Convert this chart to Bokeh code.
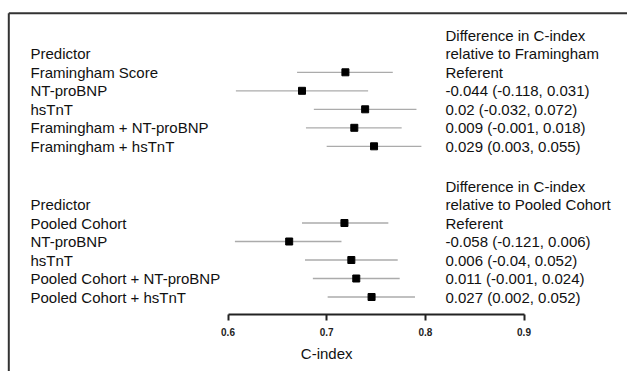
from bokeh.plotting import figure
from bokeh.models import Range1d, LinearAxis, FixedTicker, ColumnDataSource
from bokeh.core.properties import value
from bokeh.embed import file_html
from bokeh.resources import INLINE

# ---------------- data ----------------
top_labels = ["Framingham Score", "NT-proBNP", "hsTnT",
              "Framingham + NT-proBNP", "Framingham + hsTnT"]
top_est = [0.719, 0.675, 0.739, 0.728, 0.748]
top_lo = [0.670, 0.608, 0.687, 0.679, 0.700]
top_hi = [0.767, 0.742, 0.791, 0.776, 0.796]
top_diff = ["Referent", "-0.044 (-0.118, 0.031)", "0.02 (-0.032, 0.072)",
            "0.009 (-0.001, 0.018)", "0.029 (0.003, 0.055)"]
top_header = ["Difference in C-index", "relative to Framingham"]

bot_labels = ["Pooled Cohort", "NT-proBNP", "hsTnT",
              "Pooled Cohort + NT-proBNP", "Pooled Cohort + hsTnT"]
bot_est = [0.718, 0.662, 0.725, 0.730, 0.7455]
bot_lo = [0.675, 0.607, 0.678, 0.686, 0.701]
bot_hi = [0.7625, 0.715, 0.772, 0.774, 0.7895]
bot_diff = ["Referent", "-0.058 (-0.121, 0.006)", "0.006 (-0.04, 0.052)",
            "0.011 (-0.001, 0.024)", "0.027 (0.002, 0.052)"]
bot_header = ["Difference in C-index", "relative to Pooled Cohort"]

x_ticks = [0.6, 0.7, 0.8, 0.9]
x_title = "C-index"
col_title = "Predictor"

# ---------------- layout ----------------
W, H = 627, 371
PX_PER_UNIT = 986.7
X0 = 0.6 - 227.5 / PX_PER_UNIT          # data x at left edge of frame
X1 = X0 + W / PX_PER_UNIT


def px(xpix):
    """frame pixel -> data x"""
    return X0 + xpix / PX_PER_UNIT


ROW = 18.5
GROUP_TOP = [53.3, 204.0]   # y (top-down units) of the 'Predictor' row
AXIS_Y = 314.0
FONT = value("Liberation Sans")

p = figure(width=W, height=H, output_backend="svg", toolbar_location=None,
           x_range=Range1d(X0, X1), y_range=Range1d(H, 0),
           x_axis_type=None, y_axis_type=None,
           min_border=0, min_border_left=0, min_border_right=0,
           min_border_top=0, min_border_bottom=0)
p.outline_line_color = None
p.grid.visible = False
p.background_fill_color = "white"
p.border_fill_color = "white"

# frame lines (top and left)
p.segment(x0=[px(8.3), px(8.3)], y0=[12.7, 12.7], x1=[X1, px(8.3)], y1=[12.7, H],
          line_color="#333333", line_width=2)

groups = [
    (top_labels, top_est, top_lo, top_hi, top_diff, top_header),
    (bot_labels, bot_est, bot_lo, bot_hi, bot_diff, bot_header),
]

left_x, right_x = px(30), px(445)
for g, (labels, est, lo, hi, diff, header) in enumerate(groups):
    base = GROUP_TOP[g]
    ys = [base + (i + 1) * ROW for i in range(len(labels))]
    src = ColumnDataSource(dict(y=ys, est=est, lo=lo, hi=hi,
                                lab=labels, diff=diff))
    p.segment(x0="lo", y0="y", x1="hi", y1="y", source=src,
              line_color="#ababab", line_width=1.3)
    p.scatter(x="est", y="y", source=src, marker="square", size=7,
              fill_color="black", line_color="black")
    p.text(x=left_x, y="y", text="lab", source=src, text_font=FONT,
           text_font_size="15px", text_baseline="middle", text_color="#111111")
    p.text(x=right_x, y="y", text="diff", source=src, text_font=FONT,
           text_font_size="15px", text_baseline="middle", text_color="#111111")
    p.text(x=[left_x], y=[base], text=[col_title], text_font=FONT,
           text_font_size="15px", text_baseline="middle", text_color="#111111")
    p.text(x=[right_x, right_x], y=[base - ROW, base], text=header, text_font=FONT,
           text_font_size="15px", text_baseline="middle", text_color="#111111")

# x axis placed inside the frame
ax = LinearAxis(fixed_location=AXIS_Y, bounds=(x_ticks[0], x_ticks[-1]),
                ticker=FixedTicker(ticks=x_ticks))
ax.axis_line_color = "#222222"
ax.axis_line_width = 2
ax.major_tick_line_color = "#222222"
ax.major_tick_line_width = 2
ax.major_tick_in = 0
ax.major_tick_out = 6
ax.minor_tick_line_color = None
ax.major_label_text_font = "Liberation Sans"
ax.major_label_text_font_size = "10px"
ax.major_label_text_font_style = "bold"
ax.major_label_text_color = "#222222"
ax.major_label_standoff = 7
p.add_layout(ax, "below")

p.text(x=[0.7], y=[352.5], text=[x_title], text_font=FONT, text_font_size="15px",
       text_align="center", text_baseline="middle", text_color="#111111")

open("out.html", "w").write(file_html(p, INLINE))
